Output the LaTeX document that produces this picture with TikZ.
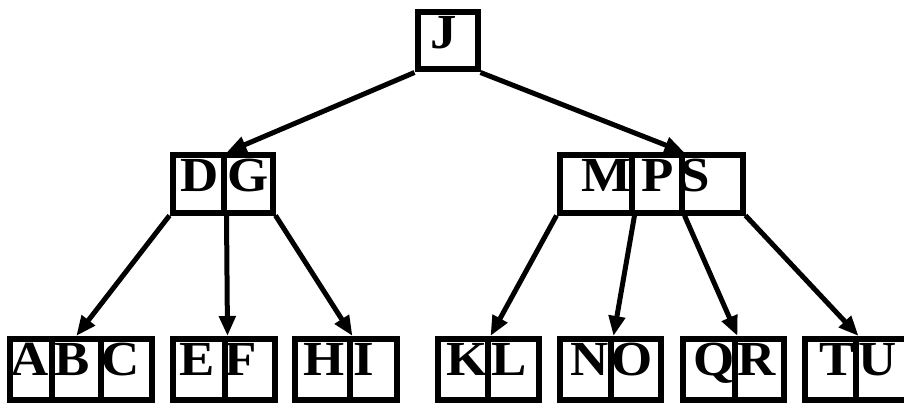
\documentclass[tikz,border=0pt]{standalone}
\usepackage{fontspec}
\setmainfont{Liberation Serif}[FakeStretch=1.08]
\usetikzlibrary{arrows.meta}
\tikzset{
  cell/.style={draw, line width=6pt, rectangle, inner sep=0pt},
  toprow/.style={cell, minimum height=57pt},
  botrow/.style={cell, minimum height=61pt},
  letter/.style={anchor=base, inner sep=0pt, font=\fontsize{49}{49}\selectfont\bfseries},
  edge/.style={line width=5pt, -{Triangle[length=20pt,width=16pt]}}
}
\begin{document}
\begin{tikzpicture}[x=1pt,y=-1pt]
\useasboundingbox (0,0) rectangle (904,406);
\clip (0,0) rectangle (904,406);
\fill[white] (0,0) rectangle (904,406);
% root
\node[toprow, minimum width=60pt] (cJ) at (447.5,41) {};
% level 1
\node[toprow, minimum width=51pt] (cD) at (198,184) {};
\node[toprow, minimum width=49pt] (cG) at (248,184) {};
\node[toprow, minimum width=72pt] (cM) at (595.5,184) {};
\node[toprow, minimum width=50pt] (cP) at (656.5,184) {};
\node[toprow, minimum width=61pt] (cS) at (712,184) {};
% leaves
\node[botrow, minimum width=42pt] (cA) at (30.5,369.5) {};
\node[botrow, minimum width=49.5pt] (cB) at (76.25,369.5) {};
\node[botrow, minimum width=50.5pt] (cC) at (126.25,369.5) {};
\node[botrow, minimum width=52pt] (cE) at (198.5,369.5) {};
\node[botrow, minimum width=50pt] (cF) at (249.5,369.5) {};
\node[botrow, minimum width=55pt] (cH) at (322,369.5) {};
\node[botrow, minimum width=47pt] (cI) at (373,369.5) {};
\node[botrow, minimum width=50pt] (cK) at (462.5,369.5) {};
\node[botrow, minimum width=51pt] (cL) at (513,369.5) {};
\node[botrow, minimum width=51pt] (cN) at (585,369.5) {};
\node[botrow, minimum width=50pt] (cO) at (635.5,369.5) {};
\node[botrow, minimum width=52pt] (cQ) at (708.5,369.5) {};
\node[botrow, minimum width=49pt] (cR) at (759,369.5) {};
\node[botrow, minimum width=51pt] (cT) at (830,369.5) {};
\node[botrow, minimum width=51pt] (cU) at (881,369.5) {};
% letters
\node[letter] (lJ) at (444,49) {J};
\node[letter] (lD) at (199.5,192) {D};
\node[letter] (lG) at (248.5,192) {G};
\node[letter] (lM) at (606,192) {M};
\node[letter] (lP) at (658,192) {P};
\node[letter] (lS) at (695,192) {S};
\node[letter] (lA) at (29.5,375) {A};
\node[letter] (lB) at (72,375) {B};
\node[letter] (lC) at (121,375) {C};
\node[letter] (lE) at (197.5,375) {E};
\node[letter] (lF) at (241,375) {F};
\node[letter] (lH) at (324,375) {H};
\node[letter] (lI) at (363.5,375) {I};
\node[letter] (lK) at (467.5,375) {K};
\node[letter] (lL) at (509.5,375) {L};
\node[letter] (lN) at (590,375) {N};
\node[letter] (lO) at (632.5,375) {O};
\node[letter] (lQ) at (714,375) {Q};
\node[letter] (lR) at (756.5,375) {R};
\node[letter] (lT) at (837.5,375) {T};
\node[letter] (lU) at (877.5,375) {U};
% edges
\draw[edge] (cJ.south west) -- (cD.north east);
\draw[edge] (cJ.south east) -- (cP.north east);
\draw[edge] (cD.south west) -- (cB.north);
\draw[edge] (cD.south east) -- (cE.north east);
\draw[edge] (cG.south east) -- (cH.north east);
\draw[edge] (cM.south west) -- (cK.north east);
\draw[edge] (cM.south east) -- (cN.north east);
\draw[edge] (cP.south east) -- (cQ.north east);
\draw[edge] (cS.south east) -- (cT.north east);
\end{tikzpicture}
\end{document}
